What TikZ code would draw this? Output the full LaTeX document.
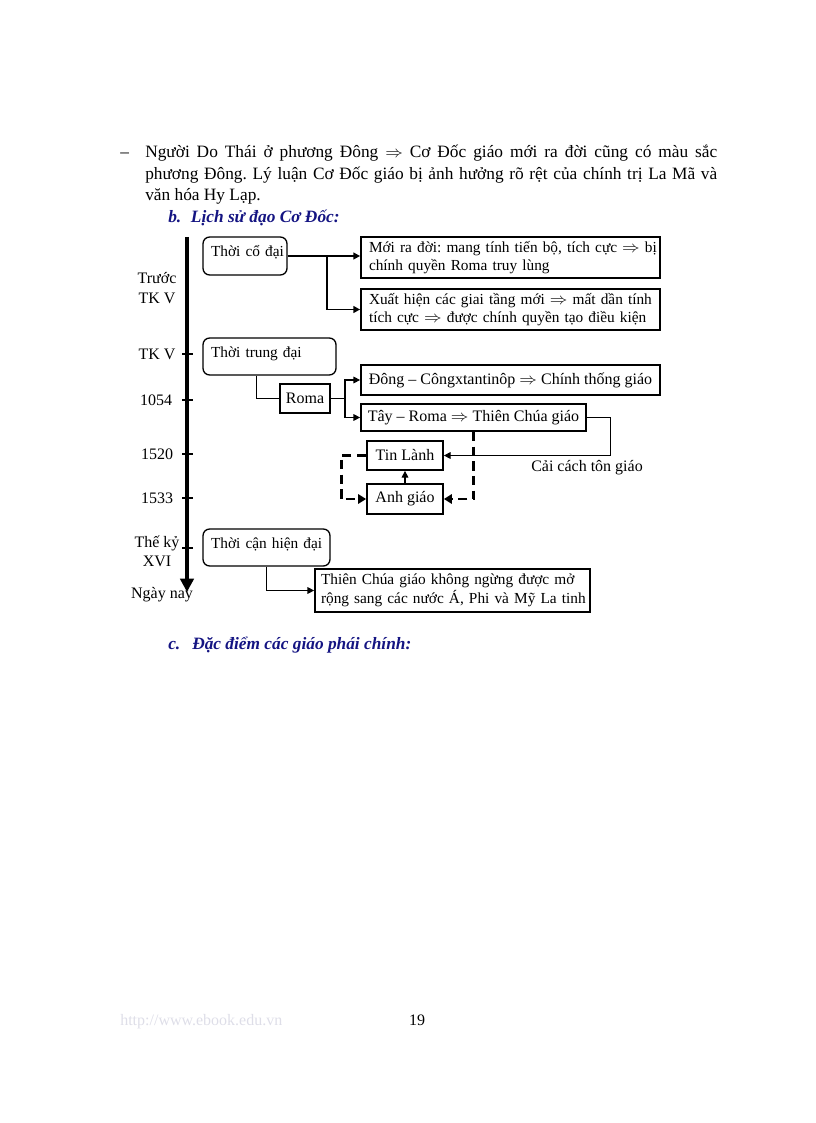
\documentclass[tikz,border=0pt]{standalone}
\usepackage{fontspec}
\usepackage{graphicx}
\setmainfont{Liberation Serif}
\usetikzlibrary{arrows.meta,calc}
\definecolor{hd}{RGB}{20,20,130}
\definecolor{ft}{RGB}{222,222,232}
\newcommand\RA{\scalebox{1.1}[1]{$\Rightarrow$}}
\begin{document}
\frenchspacing
\begin{tikzpicture}[x=0.75pt,y=-0.75pt,
  every node/.style={font=\fontsize{12}{13.8}\selectfont},
  sm/.style={font=\fontsize{11.5}{13.8}\selectfont},
  rb/.style={sm, draw, line width=1pt, rounded corners=5pt, inner xsep=6pt, inner ysep=4pt, align=left, text height=10.5pt},
  bx/.style={sm, draw, line width=1.3pt, inner xsep=6pt, inner ysep=1pt, align=left},
  cb/.style={draw, line width=1.3pt, inner sep=1pt, align=center},
  ln/.style={line width=0.8pt},
  ar/.style={line width=0.8pt, -{Triangle[length=5pt,width=5pt]}},
  dsh/.style={line width=2.2pt, dash pattern=on 7pt off 4pt, -{Triangle[length=6pt,width=7pt]}},
  lab/.style={inner sep=0pt, align=center},
  tick/.style={line width=1.5pt},
]
\useasboundingbox (0,0) rectangle (816,1123);

% paragraph
\node[anchor=base west, inner sep=0pt, font=\fontsize{13}{15}\selectfont] (dash) at (120,158) {--};
\node[anchor=base west, inner sep=0pt, font=\fontsize{13}{16.1}\selectfont] (para) at (145,158)
 {\parbox[t]{429pt}{\hyphenpenalty=10000\exhyphenpenalty=10000
 Người Do Thái ở phương Đông \RA{} Cơ Đốc giáo mới ra đời cũng có màu sắc\linebreak
 phương Đông. Lý luận Cơ Đốc giáo bị ảnh hưởng rõ rệt của chính trị La Mã và\linebreak
 văn hóa Hy Lạp.}};

\node[anchor=base west, inner sep=0pt, text=hd, font=\fontsize{13}{16}\selectfont\bfseries\itshape] (hb) at (168,223)
 {\makebox[17pt][l]{b.}Lịch sử đạo Cơ Đốc:};
\node[anchor=base west, inner sep=0pt, text=hd, font=\fontsize{13}{16}\selectfont\bfseries\itshape] (hc) at (168,649)
 {\makebox[18pt][l]{c.}Đặc điểm các giáo phái chính:};

% timeline
\coordinate (t0) at (187,237);
\coordinate (t1) at (187,592);
\draw[line width=3pt, -{Triangle[length=10pt,width=10pt]}] (t0) -- (t1);
\foreach \y in {354,400,454,498,548} \draw[tick] (182,\y) -- (193,\y);

\node[lab, font=\fontsize{12}{15}\selectfont] (l0) at (157,288) {Trước\\TK V};
\node[lab] (l1) at (157,354) {TK V};
\node[lab] (l2) at (156,400) {1054};
\node[lab] (l3) at (157,454) {1520};
\node[lab] (l4) at (157,498) {1533};
\node[lab, font=\fontsize{12}{14.5}\selectfont] (l5) at (157,551) {Thế kỷ\\XVI};
\node[lab] (l6) at (162,595) {Ngày nay};

% boxes
\node[rb, text width=51pt, text depth=10pt] (co) at (245,256) {\mbox{Thời cổ đại}};
\node[bx, text width=212.25pt, minimum height=30.75pt] (b1) at (510.5,257.5)
 {\mbox{Mới ra đời: mang tính tiến bộ, tích cực \RA{} bị}\\\mbox{chính quyền Roma truy lùng}};
\node[bx, text width=212.25pt, minimum height=30.75pt] (b2) at (510.5,309.5)
 {\mbox{Xuất hiện các giai tầng mới \RA{} mất dần tính}\\\mbox{tích cực \RA{} được chính quyền tạo điều kiện}};

\node[rb, text width=87.75pt, text depth=9.25pt] (tr) at (269.5,356.5) {\mbox{Thời trung đại}};
\node[cb, minimum width=37.5pt, minimum height=21.75pt] (roma) at (305,398.5) {Roma};
\node[cb, minimum width=224.25pt, minimum height=22.5pt] (dong) at (510.5,380) {Đông -- Côngxtantinôp \RA{} Chính thống giáo};
\node[cb, minimum width=168.75pt, minimum height=20.25pt] (tay) at (473.5,417.5) {Tây -- Roma \RA{} Thiên Chúa giáo};
\node[cb, minimum width=57pt, minimum height=21.75pt] (tin) at (405,455.5) {Tin Lành};
\node[cb, minimum width=57pt, minimum height=22.5pt] (anh) at (405,499) {Anh giáo};

\node[rb, text width=83.25pt, text depth=9.25pt] (tc) at (266.5,547.5) {\mbox{Thời cận hiện đại}};
\node[bx, inner xsep=4.5pt, text width=197.25pt, minimum height=32.25pt] (tcg) at (452.5,590.5)
 {\mbox{Thiên Chúa giáo không ngừng được mở}\\\mbox{rộng sang các nước Á, Phi và Mỹ La tinh}};

\node[lab] (cc) at (587,468) {Cải cách tôn giáo};

% connectors
\coordinate (j1) at (327,256);
\draw[ar, line width=1.3pt] (co.east) -- (co.east -| b1.west);
\draw[ar, line width=1.3pt] (j1) |- (b2.west);

\draw[ln] ($(tr.south west)+(54,0)$) |- (roma.west);
\coordinate (j2) at (345,398.5);
\draw[ln] (roma.east) -- (j2);
\draw[ar] (j2) |- (dong.west);
\draw[ar] (j2) |- (tay.west);
\draw[ar] (tay.east) -- ++(24,0) |- (tin.east);
\draw[ar] (anh.north) -- (tin.south);
\draw[dsh] (tay.south) |- (anh.east);
\draw[dsh] (tin.west) -- ++(-25,0) |- (anh.west);

\draw[ar] ($(tc.south west)+(64,0)$) |- (tcg.west);

% footer
\node[anchor=base west, inner sep=0pt, text=ft] (url) at (120,1025) {http://www.ebook.edu.vn};
\node[anchor=base, inner sep=0pt] (pg) at (417,1025) {19};
\end{tikzpicture}
\end{document}
